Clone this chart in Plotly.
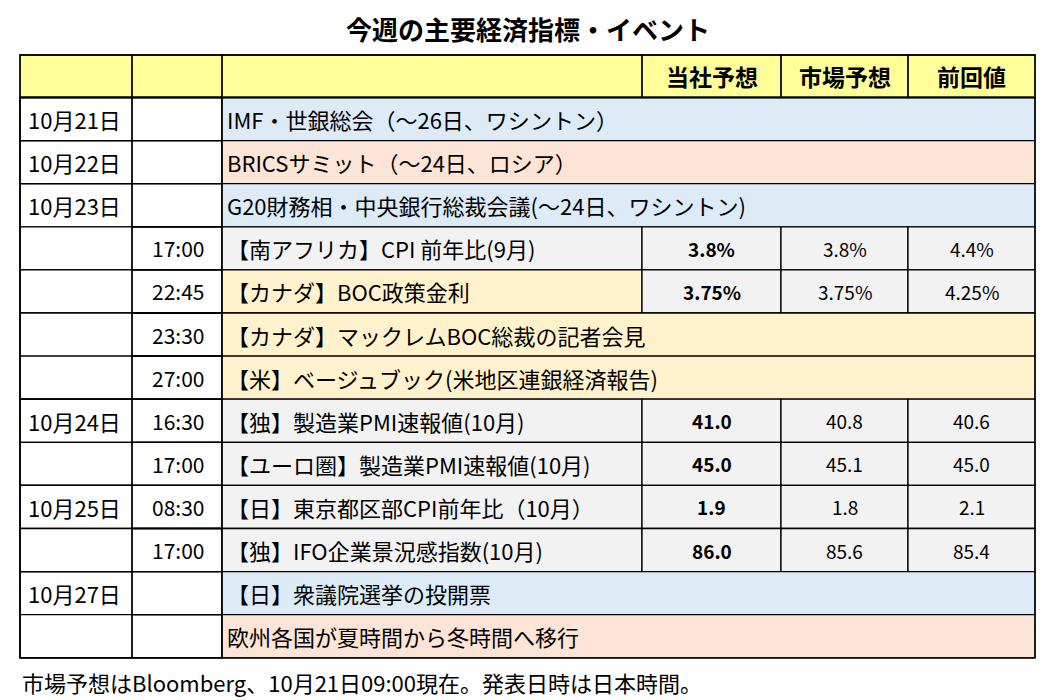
import plotly.graph_objects as go

title = "今週の主要経済指標・イベント"
headers = ["当社予想", "市場予想", "前回値"]
dates = ["10月21日", "10月22日", "10月23日", "", "", "", "", "10月24日", "", "10月25日", "", "10月27日", ""]
times = ["", "", "", "17:00", "22:45", "23:30", "27:00", "16:30", "17:00", "08:30", "17:00", "", ""]
events = ["IMF・世銀総会（～26日、ワシントン）", "BRICSサミット（～24日、ロシア）",
          "G20財務相・中央銀行総裁会議(～24日、ワシントン)", "【南アフリカ】CPI 前年比(9月)",
          "【カナダ】BOC政策金利", "【カナダ】マックレムBOC総裁の記者会見",
          "【米】ベージュブック(米地区連銀経済報告)", "【独】製造業PMI速報値(10月)",
          "【ユーロ圏】製造業PMI速報値(10月)", "【日】東京都区部CPI前年比（10月）",
          "【独】IFO企業景況感指数(10月)", "【日】衆議院選挙の投開票", "欧州各国が夏時間から冬時間へ移行"]
forecast = ["", "", "", "3.8%", "3.75%", "", "", "41.0", "45.0", "1.9", "86.0", "", ""]
market = ["", "", "", "3.8%", "3.75%", "", "", "40.8", "45.1", "1.8", "85.6", "", ""]
previous = ["", "", "", "4.4%", "4.25%", "", "", "40.6", "45.0", "2.1", "85.4", "", ""]
row_fill = ["#DDEBF7", "#FCE4D6", "#DDEBF7", "#F2F2F2", "#FFF2CC", "#FFF2CC", "#FFF2CC",
            "#F2F2F2", "#F2F2F2", "#F2F2F2", "#F2F2F2", "#DDEBF7", "#FCE4D6"]
footnote = "市場予想はBloomberg、10月21日09:00現在。発表日時は日本時間。"

FONT = "Noto Sans CJK JP"
X = [20, 132, 222, 642, 781, 908, 1035]
Y0, HH, RH = 55, 42.5, 43.1
n = len(events)
ytop = lambda i: Y0 + HH + i * RH

shapes, ann = [], []
def rect(x0, y0, x1, y1, fill=None):
    shapes.append(dict(type="rect", xref="x", yref="y", x0=x0, x1=x1, y0=y0, y1=y1,
                       fillcolor=fill or "rgba(0,0,0,0)", line=dict(color="black", width=1.3), layer="below" if fill else "above"))
def text(x, y, t, anchor="left", bold=False, size=18):
    ann.append(dict(x=x, y=y, xref="x", yref="y", text=f"<b>{t}</b>" if bold else t, showarrow=False,
                    xanchor=anchor, yanchor="middle", font=dict(family=FONT, size=size, color="black")))

# header
rect(X[0], Y0, X[-1], Y0 + HH, "#FFFF99")
for k in range(6):
    rect(X[k], Y0, X[k + 1], Y0 + HH)
for k, h in enumerate(headers):
    text((X[3 + k] + X[4 + k]) / 2, Y0 + HH / 2, h, "center", True, 23)

has_vals = [v != "" for v in forecast]
for i in range(n):
    y0, y1 = ytop(i), ytop(i + 1)
    rect(X[0], y0, X[2], y1, "white")
    if has_vals[i]:
        rect(X[2], y0, X[3], y1, row_fill[i])
        for k in range(3):
            rect(X[3 + k], y0, X[4 + k], y1, "#F2F2F2")
    else:
        rect(X[2], y0, X[-1], y1, row_fill[i])
    rect(X[1], y0, X[2], y1)
    ym = (y0 + y1) / 2
    text(X[2] + 3, ym, events[i], size=22)
    if times[i]:
        text(X[2] - 16, ym, times[i], "right", size=21)
    if has_vals[i]:
        text((X[3] + X[4]) / 2, ym, forecast[i], "center", True, 19)
        text((X[4] + X[5]) / 2, ym, market[i], "center", size=19)
        text((X[5] + X[6]) / 2, ym, previous[i], "center", size=19)

# date groups
starts = [i for i, d in enumerate(dates) if d] + [n]
for a, b in zip(starts[:-1], starts[1:]):
    rect(X[0], ytop(a), X[1], ytop(b))
    text(X[0] + 6, (ytop(a) + ytop(a + 1)) / 2, dates[a], size=22)
rect(X[0], ytop(0), X[-1], ytop(n))

text(528, 28, title, "center", True, 26)
text(20, 682, footnote, size=22)

fig = go.Figure()
fig.update_layout(width=1055, height=700, margin=dict(l=0, r=0, t=0, b=0),
                  plot_bgcolor="white", paper_bgcolor="white", shapes=shapes, annotations=ann,
                  xaxis=dict(range=[8, 1063], visible=False, fixedrange=True),
                  yaxis=dict(range=[708, 8], visible=False, fixedrange=True), showlegend=False)
fig.write_html("out.html")
